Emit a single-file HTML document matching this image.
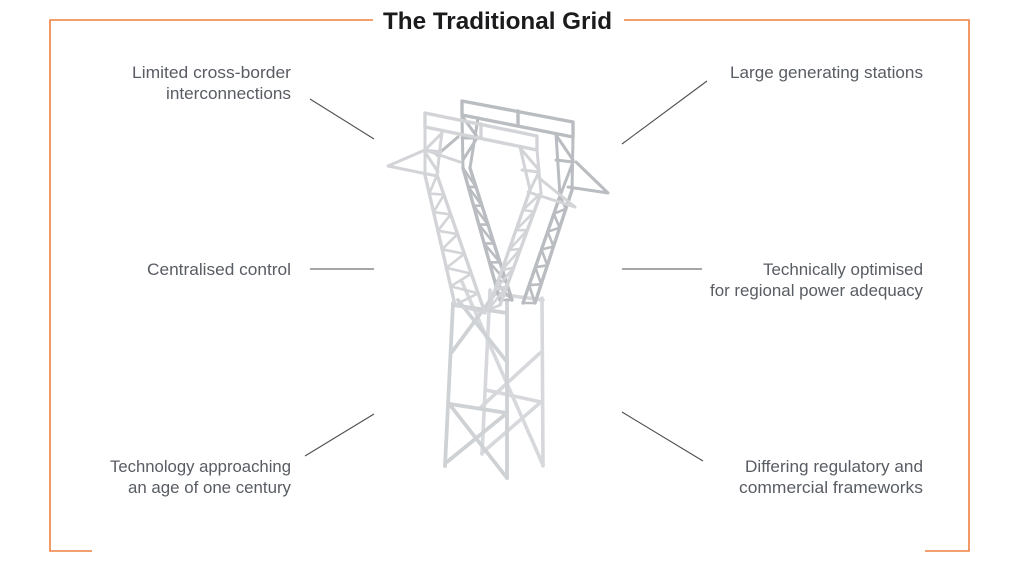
<!DOCTYPE html>
<html>
<head>
<meta charset="utf-8">
<style>
  html,body{margin:0;padding:0;background:#fff;}
  body{width:1024px;height:572px;overflow:hidden;}
  svg{display:block;}
  .lbl{font-family:"Liberation Sans",Arial,sans-serif;font-size:17px;fill:#585c63;}
  .ttl{font-family:"Liberation Sans",Arial,sans-serif;font-size:24px;font-weight:bold;fill:#1b1b1d;}
</style>
</head>
<body>
<svg width="1024" height="572" viewBox="0 0 1024 572" xmlns="http://www.w3.org/2000/svg">
  <!-- orange frame -->
  <g fill="none" stroke="#ef8040" stroke-width="1.6">
    <path d="M373,20 L50,20 L50,551 L92,551"/>
    <path d="M624,20 L969,20 L969,551 L925,551"/>
  </g>
  <text class="ttl" x="383" y="29" textLength="229" lengthAdjust="spacingAndGlyphs">The Traditional Grid</text>

  <!-- connectors -->
  <g stroke="#4d4f52" stroke-width="1.1" fill="none">
    <line x1="310" y1="99" x2="374" y2="139"/>
    <line x1="707" y1="81" x2="622" y2="144"/>
    <line x1="310" y1="269" x2="374" y2="269"/>
    <line x1="622" y1="269" x2="702" y2="269"/>
    <line x1="305" y1="456" x2="374" y2="414"/>
    <line x1="622" y1="412" x2="703" y2="461"/>
  </g>

  <!-- labels left -->
  <text class="lbl" x="132" y="78" textLength="159" lengthAdjust="spacingAndGlyphs">Limited cross-border</text>
  <text class="lbl" x="166" y="99" textLength="125" lengthAdjust="spacingAndGlyphs">interconnections</text>
  <text class="lbl" x="147" y="275" textLength="144" lengthAdjust="spacingAndGlyphs">Centralised control</text>
  <text class="lbl" x="110" y="472" textLength="181" lengthAdjust="spacingAndGlyphs">Technology approaching</text>
  <text class="lbl" x="128" y="493" textLength="163" lengthAdjust="spacingAndGlyphs">an age of one century</text>
  <!-- labels right -->
  <text class="lbl" x="730" y="78" textLength="193" lengthAdjust="spacingAndGlyphs">Large generating stations</text>
  <text class="lbl" x="763" y="275" textLength="160" lengthAdjust="spacingAndGlyphs">Technically optimised</text>
  <text class="lbl" x="710" y="296" textLength="213" lengthAdjust="spacingAndGlyphs">for regional power adequacy</text>
  <text class="lbl" x="745" y="472" textLength="178" lengthAdjust="spacingAndGlyphs">Differing regulatory and</text>
  <text class="lbl" x="739" y="493" textLength="184" lengthAdjust="spacingAndGlyphs">commercial frameworks</text>

  <!-- ===== TOWER ===== -->
  <!-- lower box (behind) -->
  <g stroke="#d6d8db" stroke-width="3.6" fill="none" stroke-linecap="round">
    <path d="M490,290 L482,454 M542,298 L543,466"/>
    <path d="M490,293 L543,300 M486,390 L541,402"/>
    <path d="M462,282 L543,465 M540,353 L480,408 M541,402 L482,453"/>
  </g>
  <g stroke="#cfd2d5" stroke-width="3.8" fill="none" stroke-linecap="round">
    <path d="M453,303 L445,466 M507,300 L507,478"/>
    <path d="M453,305 L507,313 M450,404 L507,413"/>
    <path d="M452,352 L500,287 M458,300 L507,362 M450,405 L507,478 M507,413 L447,462"/>
  </g>

  <!-- back tower (darker) -->
  <g stroke="#b9bcc0" fill="none" stroke-linecap="round" stroke-linejoin="round">
    <!-- back beam -->
    <path stroke-width="3.4" d="M462,101 L573,122 L573,137 L462,115 Z M518,111 L518,126"/>
    <!-- back-left head -->
    <path stroke-width="3" d="M462,115 L463,168 M478,118 L470,168 M462,138 L477,138 M462,116 L478,138 M477,138 L463,160 M458,137 L437,155"/>
    <!-- back-right head + arm -->
    <path stroke-width="3" d="M573,137 L572,190 M556,134 L560,196 M556,160 L573,162 M556,135 L573,160 M573,162 L560,196 M608,193 L576,162 M608,193 L568,187"/>
    <!-- BL truss -->
    <path stroke-width="3.4" d="M463,168 L500,300 M470,168 L512,300"/>
    <path stroke-width="2.6" d="M468.3,186.9 L476,186.9 M473.6,205.7 L482,205.7 M478.9,224.6 L488,224.6 M484.1,243.4 L494,243.4 M489.4,262.3 L500,262.3 M494.7,281.1 L506,281.1 M500,300 L512,300
      M463,168 L476,186.9 M468.3,186.9 L482,205.7 M473.6,205.7 L488,224.6 M478.9,224.6 L494,243.4 M484.1,243.4 L500,262.3 M489.4,262.3 L506,281.1 M494.7,281.1 L512,300"/>
    <!-- BR truss -->
    <path stroke-width="3.4" d="M572,190 L535,303 M560,196 L523,303"/>
    <path stroke-width="2.6" d="M565.8,208.8 L553.8,213.8 M559.7,227.7 L547.7,231.7 M553.5,246.5 L541.5,249.5 M547.3,265.3 L535.3,267.3 M541.2,284.2 L529.2,285.2 M535,303 L523,303
      M560,196 L565.8,208.8 M553.8,213.8 L559.7,227.7 M547.7,231.7 L553.5,246.5 M541.5,249.5 L547.3,265.3 M535.3,267.3 L541.2,284.2 M529.2,285.2 L535,303"/>
  </g>

  <!-- front tower (lighter) -->
  <g stroke="#d2d4d7" fill="none" stroke-linecap="round" stroke-linejoin="round">
    <!-- front beam -->
    <path stroke-width="3.4" d="M425,113 L537,136 L537,150 L425,127 Z M481,124 L481,138"/>
    <!-- front-left head + arm -->
    <path stroke-width="3" d="M425,127 L425,175 M442,131 L437,175 M425,150 L441,152 M425,150 L442,133 M425,152 L438,172 M388,166 L425,150 M388,166 L437,176 M425,150 L460,162"/>
    <!-- front-right head + arm -->
    <path stroke-width="3" d="M537,150 L541,193 M520,147 L530,190 M522,170 L539,172 M520,148 L539,170 M539,172 L530,190 M575,207 L539,178 M575,207 L528,192"/>
    <!-- FL truss -->
    <path stroke-width="3.4" d="M425,175 L455,305 M437,175 L485,313"/>
    <path stroke-width="2.6" d="M429.3,193.6 L443.9,194.7 M433.6,212.1 L450.7,214.4 M437.9,230.7 L457.6,234.1 M442.1,249.3 L464.4,253.9 M446.4,267.9 L471.3,273.6 M450.7,286.4 L478.1,293.3 M455,305 L485,313
      M437,175 L429.3,193.6 M443.9,194.7 L433.6,212.1 M450.7,214.4 L437.9,230.7 M457.6,234.1 L442.1,249.3 M464.4,253.9 L446.4,267.9 M471.3,273.6 L450.7,286.4 M478.1,293.3 L455,305"/>
    <!-- FR truss -->
    <path stroke-width="3.4" d="M541,193 L500,305 M530,190 L488,310"/>
    <path stroke-width="2.6" d="M534.2,211.7 L523,210 M527.3,230.3 L516,230 M520.5,249 L509,250 M513.7,267.7 L502,270 M506.8,286.3 L495,290 M500,305 L488,310
      M541,193 L523,210 M534.2,211.7 L516,230 M527.3,230.3 L509,250 M520.5,249 L502,270 M513.7,267.7 L495,290 M506.8,286.3 L488,310"/>
  </g>
</svg>
</body>
</html>
